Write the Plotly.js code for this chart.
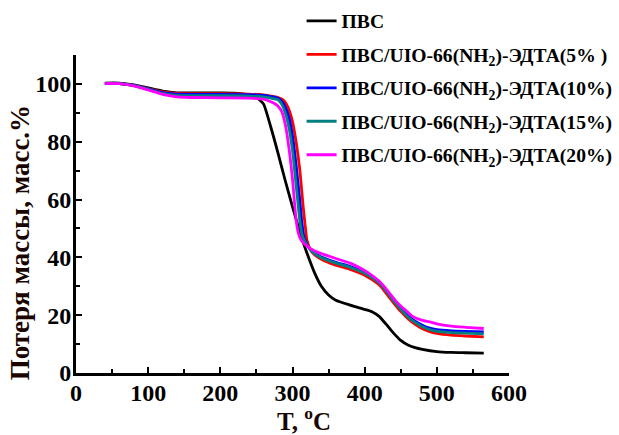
<!DOCTYPE html>
<html>
<head>
<meta charset="utf-8">
<script src="https://cdn.plot.ly/plotly-3.0.1.min.js"></script>
<style>html,body{margin:0;padding:0;background:#fff;}#chart{width:619px;height:435px;}</style>
</head>
<body>
<div id="chart"></div>
<script>
// Series names
const seriesNames = [
  "ПВС",
  "ПВС/UIO-66(NH<sub>2</sub>)-ЭДТА(5% )",
  "ПВС/UIO-66(NH<sub>2</sub>)-ЭДТА(10%)",
  "ПВС/UIO-66(NH<sub>2</sub>)-ЭДТА(15%)",
  "ПВС/UIO-66(NH<sub>2</sub>)-ЭДТА(20%)"
];
const seriesColors = ["#000000", "#ff0000", "#0000ff", "#008080", "#ff00ff"];

// Temperatures (°C) and mass (%)
const tPVS = [40,60,80,100,120,140,160,200,220,240,250,255,260,270,280,290,300,310,315,320,330,340,350,360,380,400,410,420,430,440,450,460,470,480,500,520,540,565];
const mPVS = [100.3,100.3,99.7,98.6,97.5,96.9,96.9,96.9,96.8,96.2,95.5,94.3,93,85,76,66.5,57.5,49,45,41.5,35,30,27,25.2,23.5,22,21.2,19.6,16.8,13.8,11.3,9.7,8.8,8.2,7.4,7.1,7.0,6.9];

const t5 = [40,60,80,100,120,140,160,200,240,260,270,280,287,292,296,300,305,310,315,318,320,325,330,340,352,360,380,400,420,430,440,450,460,470,480,490,500,520,540,565];
const m5 = [100.2,100.1,99.5,98.4,97.2,96.7,96.6,96.6,96.5,96.2,95.8,95.3,94.5,92.8,90.5,87,80,70.5,57,50,46,42.5,41,39.3,38,37.3,35.8,33.8,30.5,27.5,24.3,21.3,18.8,16.8,15.3,14.3,13.7,13.1,12.8,12.5];

const t10 = [40,60,80,100,120,140,160,200,240,260,270,280,285,290,295,300,305,310,313,316,320,325,330,340,360,380,400,420,430,440,450,460,470,480,490,500,520,540,565];
const m10 = [100.2,100.1,99.5,98.3,97.0,96.5,96.4,96.4,96.3,96.0,95.6,95.0,94.0,92.0,88.5,82,72,60,52,47,44.5,42.7,41.6,40.1,38.3,36.8,34.8,31.5,28.6,25.3,22.3,19.8,17.9,16.5,15.5,15.0,14.6,14.4,14.2];

const t15 = [40,60,80,100,120,140,160,200,240,260,270,280,285,290,295,300,305,310,313,318,325,330,340,360,380,400,420,430,440,450,460,470,480,490,500,520,540,565];
const m15 = [100.2,100.1,99.4,98.1,96.7,96.0,95.9,95.9,95.8,95.5,95.1,94.5,93,90,85,77,65,53,48,45,42.6,41.4,39.9,38.0,36.5,34.5,31.2,28.3,25,22,19.4,17.5,16,15,14.4,14,13.8,13.5];

const t20 = [40,60,80,100,120,140,160,200,240,260,270,275,280,285,290,295,300,305,308,312,318,330,340,352,360,380,398,410,420,430,444,450,460,467,480,490,500,520,540,565];
const m20 = [100.2,100.1,99.3,97.9,96.4,95.5,95.3,95.2,95.1,94.7,93.8,93.2,92.3,90.5,86,78,67,53,48.5,46,44.3,42.3,41.3,40.3,39.6,38,35.7,33.8,31.8,29,24.7,23.2,21,19.5,18.2,17.7,17.0,16.2,15.8,15.4];

const tSets = [tPVS, t5, t10, t15, t20];
const mSets = [mPVS, m5, m10, m15, m20];

const fontFam = "Liberation Serif, Times New Roman, serif";

const traces = tSets.map((t, i) => ({
  x: t, y: mSets[i], type: "scatter", mode: "lines",
  name: "<b>" + seriesNames[i] + "</b>", legendgroup: "g" + i,
  line: {color: seriesColors[i], width: 2.8, shape: "spline", smoothing: 0.6}
}));

const layout = {
  width: 619, height: 435,
  margin: {l: 76, r: 110, t: 55, b: 62, autoexpand: false},
  paper_bgcolor: "#fff", plot_bgcolor: "#fff",
  font: {family: fontFam, size: 22, color: "#000"},
  showlegend: true,
  legend: {
    x: 0.521, y: 1.168, xanchor: "left", yanchor: "top",
    bgcolor: "rgba(0,0,0,0)", borderwidth: 0,
    font: {family: fontFam, size: 19.6, color: "#000"},
    traceorder: "grouped", tracegroupgap: 5
  },
  xaxis: {
    range: [0, 600], dtick: 100, tick0: 0,
    showline: true, linewidth: 3, linecolor: "#000",
    showgrid: false, zeroline: false,
    ticks: "inside", ticklen: 6, tickwidth: 2, tickcolor: "#000",
    minor: {dtick: 50, ticks: "inside", ticklen: 4, tickwidth: 2, tickcolor: "#000"},
    tickprefix: "<b>", ticksuffix: "</b>",
    ticklabelstandoff: -4,
    tickfont: {family: fontFam, size: 24, color: "#000"}
  },
  yaxis: {
    range: [0, 110], dtick: 20, tick0: 0,
    showline: true, linewidth: 3, linecolor: "#000",
    showgrid: false, zeroline: false,
    ticks: "inside", ticklen: 6, tickwidth: 2, tickcolor: "#000",
    minor: {dtick: 10, ticks: "inside", ticklen: 4, tickwidth: 2, tickcolor: "#000"},
    tickprefix: "<b>", ticksuffix: "</b>",
    ticklabelstandoff: -3,
    tickfont: {family: fontFam, size: 24, color: "#000"}
  },
  annotations: [
    {text: "<b>T, <sup>o</sup>C</b>", xref: "paper", yref: "paper", x: 0.527, y: -0.146,
     xanchor: "center", yanchor: "middle", showarrow: false,
     font: {family: fontFam, size: 25, color: "#1a0500"}},
    {text: "<b>Потеря массы, масс.%</b>", xref: "paper", yref: "paper", x: -0.13, y: 0.41,
     xanchor: "center", yanchor: "middle", showarrow: false, textangle: -90,
     font: {family: fontFam, size: 27, color: "#1a0500"}}
  ]
};

Plotly.newPlot("chart", traces, layout, {displayModeBar: false, staticPlot: true});
</script>
</body>
</html>
